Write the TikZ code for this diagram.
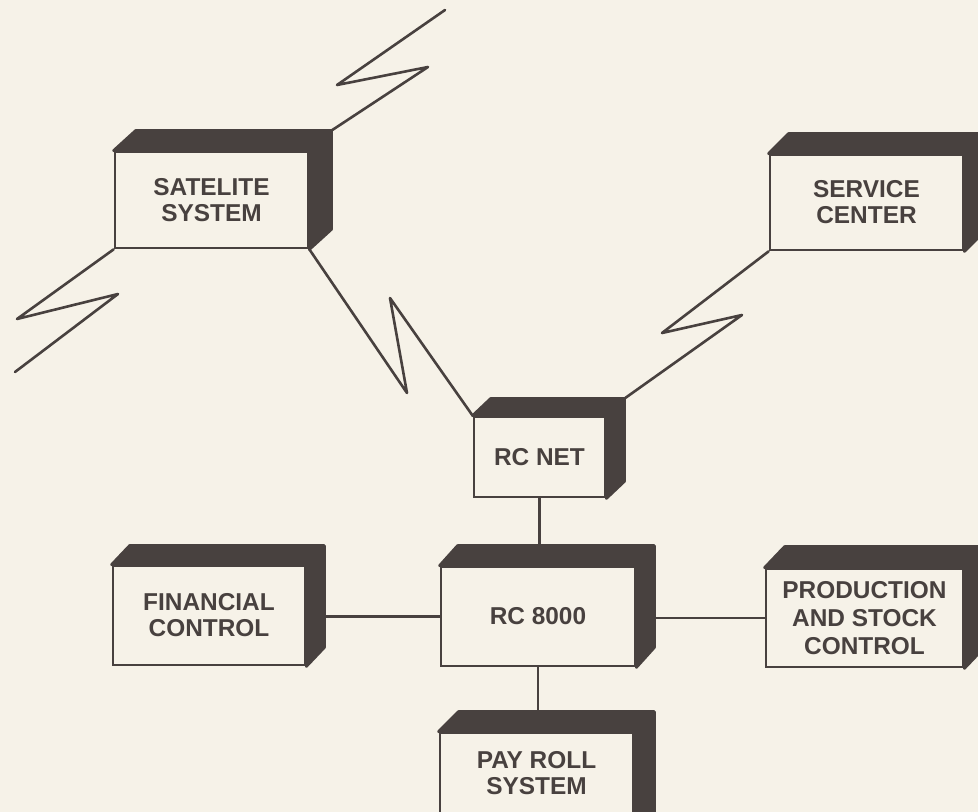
\documentclass[tikz,border=0pt]{standalone}
\usepackage{fontspec}
\setmainfont{Liberation Sans}
\usetikzlibrary{calc}
\definecolor{bg}{RGB}{246,242,232}
\definecolor{ink}{RGB}{72,65,63}
\newcommand{\cubeband}[3]{%
  \coordinate (#1-bnw) at ($(#1.north west)+(#2,-#3)$);
  \coordinate (#1-bne) at ($(#1.north east)+(#2,-#3)$);
  \coordinate (#1-bse) at ($(#1.south east)+(#2,-#3)$);
  \filldraw[band] (#1.north west) -- (#1-bnw) -- (#1-bne) -- (#1-bse) -- (#1.south east) -- (#1.north east) -- cycle;}
\begin{document}
\begin{tikzpicture}[x=1bp,y=-1bp,
  lbl/.style={align=center, text=ink, font=\bfseries\fontsize{24.5}{26}\selectfont},
  box/.style={draw=ink, line width=2.8bp, fill=bg, rectangle, inner sep=0pt, lbl},
  band/.style={fill=ink, draw=ink, line width=2.8bp, line join=round},
  wire/.style={draw=ink, line width=2.6bp, line join=round, line cap=round}]
\useasboundingbox (0,0) rectangle (978,812);
\fill[bg] (0,0) rectangle (978,812);
\clip (0,0) rectangle (978,812);
% boxes
\node[box, minimum width=193bp, minimum height=96bp] (sat) at (211.5,200) {SATELITE\\SYSTEM};
\node[box, minimum width=193bp, minimum height=95bp] (svc) at (866.5,202.5) {SERVICE\\CENTER};
\node[box, minimum width=131bp, minimum height=80bp] (net) at (539.5,457) {RC NET};
\node[box, minimum width=194bp, minimum height=99bp] (rc) at (538,616.5) {RC 8000};
\node[box, minimum width=192bp, minimum height=99bp] (fin) at (209,615.5) {FINANCIAL\\CONTROL};
\node[box, minimum width=197bp, minimum height=98bp, font=\bfseries\fontsize{24.5}{28}\selectfont] (prod) at (864.5,618) {PRODUCTION\\AND STOCK\\CONTROL};
\node[box, minimum width=193bp, minimum height=100bp,
  label={[lbl, yshift=9.5bp]center:PAY ROLL\\SYSTEM}] (pay) at (536.5,783) {};
% 3D bands
\cubeband{sat}{22}{20}
\cubeband{svc}{20}{20}
\cubeband{net}{18}{17}
\cubeband{rc}{18}{20}
\cubeband{fin}{18}{19}
\cubeband{prod}{20}{21}
\cubeband{pay}{20}{20}
% zigzag points
\coordinate (a1) at (428,67);
\coordinate (a2) at (337,85);
\coordinate (a3) at (445,10);
\coordinate (b1) at (17,319);
\coordinate (b2) at (118,294);
\coordinate (b3) at (15,372);
\coordinate (c1) at (407,393);
\coordinate (c2) at (390,298);
\coordinate (d1) at (662,333);
\coordinate (d2) at (742,315);
% connectors
\draw[wire] (sat-bne) -- (a1) -- (a2) -- (a3);
\draw[wire] (sat.south west) -- (b1) -- (b2) -- (b3);
\draw[wire] (sat.south east) -- (c1) -- (c2) -- (net.north west);
\draw[wire] (svc.south west) -- (d1) -- (d2) -- (net-bne);
\draw[wire] (net.south) -- (net.south |- rc-bnw);
\draw[wire] (fin-bse |- rc.west) -- (rc.west);
\draw[wire] (rc-bse |- prod.west) -- (prod.west);
\draw[wire] (rc.south) -- (rc.south |- pay-bnw);
\end{tikzpicture}
\end{document}
